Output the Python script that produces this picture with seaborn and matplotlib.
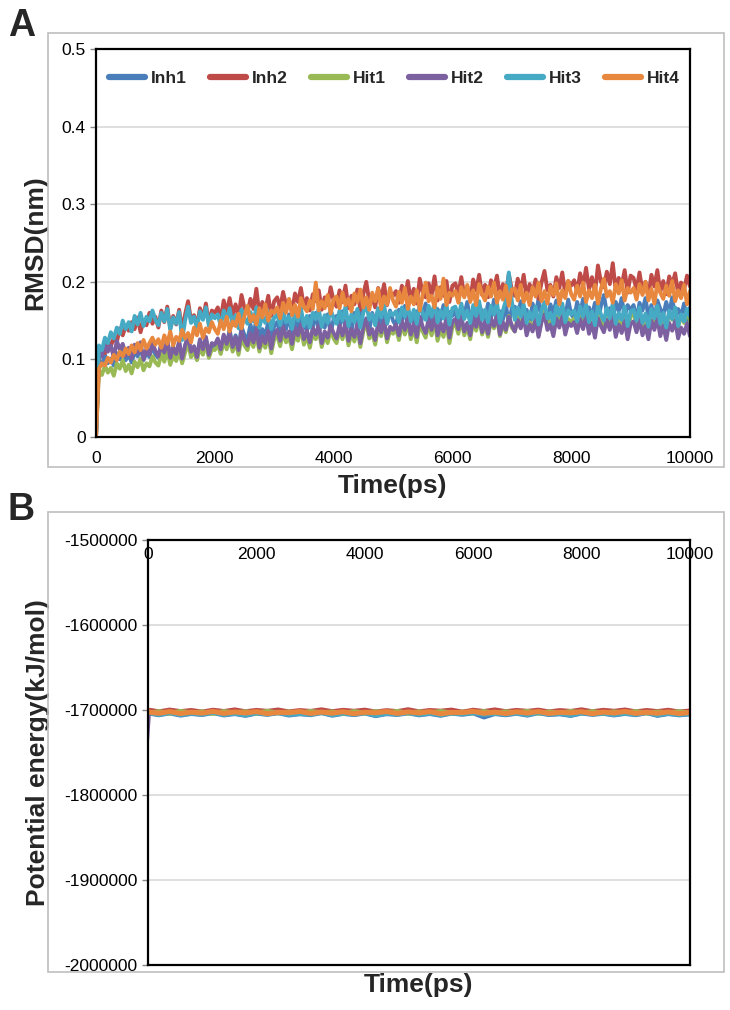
"""MD trajectories: RMSD (A) and potential energy (B) for two inhibitors and four hits."""

import matplotlib
matplotlib.use("Agg")
import matplotlib.pyplot as plt
import numpy as np
import pandas as pd
import seaborn as sns
from matplotlib.lines import Line2D
from matplotlib.patches import Rectangle

SERIES = ["Inh1", "Inh2", "Hit1", "Hit2", "Hit3", "Hit4"]
COLORS = {
    "Inh1": "#4A7EBB",
    "Inh2": "#BE4B48",
    "Hit1": "#98B954",
    "Hit2": "#7D60A0",
    "Hit3": "#46AAC5",
    "Hit4": "#E8873E",
}

# one row = 1000 ps
RMSD_TIME = list(range(0, 10001, 50))
RMSD_INH1 = [0,
             98, 93, 106, 95, 101, 92, 108, 100, 113, 99, 106, 96, 110, 104, 115, 99, 109, 103, 118, 106,
             102, 121, 108, 125, 100, 115, 106, 122, 99, 117, 131, 108, 116, 101, 124, 111, 128, 104, 120, 115,
             125, 108, 130, 119, 138, 116, 131, 114, 142, 131, 126, 145, 130, 152, 128, 139, 131, 148, 124, 143,
             148, 133, 152, 139, 158, 131, 150, 138, 161, 144, 137, 156, 142, 160, 134, 149, 141, 158, 133, 152,
             156, 142, 162, 139, 151, 135, 160, 145, 166, 140, 153, 137, 160, 148, 165, 138, 155, 146, 163, 150,
             143, 164, 148, 169, 141, 157, 146, 162, 139, 158, 172, 150, 157, 142, 165, 151, 170, 147, 161, 156,
             163, 146, 168, 157, 174, 150, 165, 143, 171, 160, 152, 172, 154, 177, 147, 162, 151, 171, 145, 166,
             168, 153, 175, 151, 164, 146, 172, 157, 178, 153, 166, 149, 171, 160, 176, 150, 167, 155, 177, 158,
             153, 174, 159, 178, 151, 167, 156, 173, 148, 169, 183, 160, 166, 152, 174, 162, 179, 155, 170, 164,
             170, 151, 173, 163, 179, 155, 170, 149, 176, 165, 157, 174, 159, 180, 152, 165, 156, 172, 149, 167]
RMSD_INH2 = [0,
             100, 112, 108, 125, 117, 128, 122, 140, 131, 143, 137, 148, 139, 154, 135, 150, 144, 160, 146, 155,
             141, 163, 148, 168, 140, 156, 145, 164, 138, 158, 175, 150, 157, 143, 166, 153, 172, 146, 163, 160,
             167, 152, 176, 160, 179, 157, 171, 155, 183, 166, 160, 178, 165, 191, 158, 174, 163, 182, 156, 175,
             180, 166, 187, 170, 177, 161, 185, 174, 192, 167, 179, 163, 184, 175, 189, 164, 180, 170, 193, 176,
             168, 189, 174, 195, 166, 182, 171, 190, 164, 184, 200, 175, 181, 167, 192, 178, 197, 170, 187, 182,
             188, 173, 195, 180, 201, 176, 191, 172, 204, 186, 180, 198, 183, 207, 176, 193, 182, 201, 174, 195,
             198, 184, 206, 182, 194, 177, 203, 189, 209, 183, 196, 180, 202, 191, 208, 181, 197, 186, 210, 190,
             182, 204, 188, 209, 180, 197, 186, 203, 178, 199, 214, 189, 196, 181, 206, 192, 212, 184, 201, 195,
             202, 187, 211, 194, 218, 190, 206, 185, 221, 200, 193, 213, 197, 224, 189, 205, 195, 215, 186, 208,
             205, 190, 212, 188, 200, 182, 209, 194, 215, 187, 201, 184, 207, 196, 211, 185, 199, 190, 208, 194]
RMSD_HIT1 = [0,
             86, 80, 92, 83, 89, 79, 95, 88, 99, 85, 93, 82, 97, 90, 101, 86, 95, 91, 104, 96,
             92, 107, 97, 112, 93, 105, 98, 111, 95, 109, 121, 103, 110, 99, 116, 106, 120, 102, 113, 112,
             120, 107, 124, 113, 127, 110, 122, 106, 129, 118, 112, 128, 116, 133, 110, 124, 115, 131, 108, 126,
             131, 117, 135, 122, 129, 113, 134, 124, 140, 119, 130, 115, 134, 126, 138, 116, 131, 121, 139, 127,
             121, 139, 126, 143, 118, 133, 123, 140, 116, 136, 148, 127, 134, 119, 142, 130, 146, 122, 137, 133,
             140, 125, 145, 132, 148, 126, 141, 122, 146, 136, 128, 147, 131, 150, 124, 139, 129, 147, 121, 142,
             146, 133, 151, 131, 142, 126, 149, 137, 154, 132, 145, 129, 150, 140, 155, 130, 146, 135, 156, 141,
             136, 155, 141, 159, 134, 148, 139, 156, 131, 151, 163, 142, 149, 134, 157, 145, 162, 137, 152, 148,
             153, 139, 158, 145, 162, 140, 154, 136, 160, 150, 142, 159, 146, 164, 138, 153, 143, 161, 135, 155,
             159, 146, 163, 143, 155, 138, 161, 150, 166, 144, 156, 140, 160, 151, 164, 141, 157, 147, 163, 150]
RMSD_HIT2 = [0,
             112, 104, 121, 110, 118, 102, 124, 113, 120, 105, 115, 101, 119, 108, 122, 100, 114, 106, 121, 111,
             104, 120, 109, 125, 102, 116, 107, 123, 101, 118, 130, 110, 117, 103, 126, 113, 129, 106, 121, 119,
             127, 113, 132, 120, 135, 116, 129, 112, 137, 125, 118, 134, 122, 139, 115, 130, 121, 137, 114, 133,
             138, 124, 142, 129, 136, 120, 141, 131, 145, 126, 137, 122, 141, 132, 144, 121, 136, 128, 143, 134,
             127, 144, 131, 148, 124, 139, 129, 146, 121, 141, 152, 132, 139, 125, 147, 135, 150, 127, 142, 138,
             145, 131, 150, 138, 153, 132, 147, 129, 155, 142, 134, 152, 138, 157, 131, 147, 136, 154, 128, 149,
             152, 139, 156, 136, 147, 131, 154, 142, 158, 135, 149, 133, 153, 143, 157, 132, 148, 138, 155, 144,
             136, 151, 140, 155, 131, 145, 136, 152, 129, 148, 158, 138, 145, 130, 153, 141, 156, 132, 147, 143,
             148, 134, 152, 139, 156, 133, 147, 128, 153, 143, 135, 151, 138, 155, 129, 145, 134, 150, 126, 146,
             149, 135, 152, 131, 143, 126, 150, 138, 153, 130, 144, 125, 147, 137, 150, 127, 141, 133, 146, 130]
RMSD_HIT3 = [0,
             118, 112, 128, 121, 135, 127, 141, 133, 150, 139, 148, 136, 156, 145, 160, 143, 155, 149, 163, 151,
             144, 160, 149, 165, 138, 154, 146, 161, 125, 150, 168, 147, 155, 140, 162, 151, 167, 143, 158, 153,
             158, 143, 163, 150, 166, 144, 157, 140, 164, 153, 146, 161, 149, 167, 141, 156, 147, 162, 139, 154,
             158, 144, 162, 148, 155, 139, 161, 150, 166, 143, 156, 141, 160, 152, 165, 142, 157, 147, 164, 153,
             146, 163, 150, 168, 143, 158, 148, 165, 141, 160, 172, 151, 158, 144, 166, 154, 170, 147, 161, 157,
             162, 148, 167, 155, 170, 149, 164, 146, 171, 159, 151, 169, 155, 174, 148, 163, 153, 171, 145, 166,
             168, 154, 172, 152, 163, 147, 170, 156, 175, 151, 164, 148, 169, 158, 173, 147, 163, 176, 212, 175,
             151, 167, 155, 171, 147, 161, 152, 168, 145, 163, 174, 153, 160, 146, 169, 157, 172, 148, 163, 158,
             163, 149, 168, 155, 171, 148, 162, 144, 169, 158, 150, 166, 153, 172, 146, 160, 151, 168, 143, 162,
             164, 150, 167, 147, 159, 142, 165, 153, 169, 146, 160, 141, 163, 152, 167, 143, 158, 149, 165, 155]
RMSD_HIT4 = [0,
             88, 95, 92, 102, 96, 106, 99, 110, 104, 114, 107, 118, 109, 121, 112, 125, 114, 121, 128, 119,
             126, 115, 131, 120, 136, 118, 129, 124, 138, 127, 134, 122, 141, 131, 146, 128, 140, 135, 148, 139,
             133, 150, 139, 155, 136, 149, 143, 159, 140, 156, 169, 149, 157, 145, 166, 154, 171, 150, 163, 160,
             167, 153, 173, 160, 178, 157, 170, 155, 179, 168, 162, 176, 165, 199, 163, 175, 166, 183, 159, 177,
             181, 166, 186, 170, 178, 162, 185, 174, 190, 167, 180, 164, 186, 175, 191, 165, 181, 171, 192, 176,
             168, 187, 173, 192, 165, 181, 171, 189, 163, 184, 199, 175, 182, 167, 193, 178, 204, 170, 186, 182,
             188, 173, 193, 180, 196, 174, 189, 170, 197, 184, 176, 194, 181, 199, 173, 188, 177, 195, 169, 190,
             191, 176, 196, 174, 186, 170, 193, 181, 199, 175, 188, 172, 194, 183, 198, 171, 189, 179, 201, 184,
             177, 195, 181, 199, 174, 189, 179, 196, 172, 191, 204, 181, 188, 173, 197, 185, 202, 176, 192, 186,
             192, 177, 197, 183, 200, 176, 191, 172, 198, 186, 178, 195, 182, 201, 175, 189, 179, 196, 171, 188]

# Potential energy in kJ/mol, roughly every 200 ps.
ENERGY_TIME = [0, 40] + list(range(200, 10001, 200))
ENERGY_INH1 = [-1702000, -1703800, -1705600, -1703400, -1706000, -1704100, -1705300, -1703000, -1705800, -1704200,
               -1706300, -1703600, -1705100, -1703200, -1705900, -1704400, -1705500, -1703100, -1706100, -1704000,
               -1705400, -1703500, -1706600, -1704300, -1705200, -1703300, -1705700, -1704100, -1706200, -1703700,
               -1705000, -1703400, -1708200, -1704200, -1705600, -1703800, -1706000, -1703200, -1705300, -1704500,
               -1706400, -1703600, -1705100, -1703900, -1705800, -1704000, -1705500, -1703100, -1706300, -1704200,
               -1705700, -1704600]
ENERGY_INH2 = [-1702000, -1700400, -1702200, -1700100, -1701900, -1700600, -1702500, -1700300, -1701800, -1699900,
               -1702100, -1700500, -1701600, -1700000, -1702300, -1700700, -1701700, -1699800, -1702000, -1700400,
               -1701500, -1700200, -1702400, -1700800, -1701900, -1699700, -1702200, -1700600, -1701400, -1700100,
               -1702600, -1700300, -1701800, -1699900, -1702000, -1700500, -1701600, -1700200, -1702300, -1700700,
               -1701700, -1699800, -1702100, -1700400, -1701500, -1700000, -1702200, -1700600, -1701900, -1700300,
               -1702400, -1701200]
ENERGY_HIT1 = [-1702000, -1703600, -1702000, -1703900, -1701700, -1703400, -1702200, -1704000, -1701900, -1703300,
               -1702100, -1703800, -1701600, -1703500, -1702300, -1703700, -1701800, -1703200, -1702400, -1704100,
               -1701900, -1703600, -1702000, -1703300, -1701700, -1703900, -1702200, -1703400, -1701800, -1703700,
               -1702500, -1703500, -1701900, -1704000, -1702100, -1703300, -1701700, -1703800, -1702300, -1703600,
               -1701800, -1703400, -1702000, -1703900, -1702200, -1703500, -1701900, -1703700, -1702400, -1703300,
               -1702100, -1703600]
ENERGY_HIT2 = [-1740000, -1703000, -1704100, -1702300, -1704400, -1702600, -1703900, -1702100, -1704200, -1702800,
               -1703700, -1702200, -1704500, -1702900, -1703500, -1702000, -1704300, -1702600, -1704000, -1702400,
               -1704600, -1702800, -1703600, -1702100, -1704200, -1702500, -1703800, -1702300, -1704700, -1703000,
               -1703400, -1701900, -1704100, -1702700, -1704400, -1702400, -1703900, -1702100, -1704300, -1702900,
               -1703600, -1702300, -1704500, -1702600, -1703800, -1702000, -1704200, -1702800, -1704100, -1702500,
               -1704400, -1703300]
ENERGY_HIT3 = [-1702000, -1703100, -1705100, -1702900, -1705400, -1703500, -1704800, -1702600, -1705200, -1703700,
               -1705700, -1703200, -1704600, -1702800, -1705300, -1703900, -1705000, -1702700, -1705500, -1703400,
               -1704900, -1703000, -1706000, -1703800, -1704700, -1702900, -1705200, -1703600, -1705600, -1703300,
               -1704500, -1703000, -1705100, -1703800, -1705000, -1703400, -1705400, -1702800, -1704800, -1704000,
               -1705800, -1703100, -1704600, -1703500, -1705300, -1703600, -1705000, -1702700, -1705700, -1703800,
               -1705200, -1704100]
ENERGY_HIT4 = [-1702000, -1702600, -1703900, -1701800, -1704200, -1702500, -1703700, -1701600, -1704000, -1702300,
               -1703500, -1701900, -1704300, -1702700, -1703200, -1701700, -1704100, -1702400, -1703800, -1702000,
               -1704400, -1702600, -1703300, -1701800, -1704000, -1702200, -1703600, -1701900, -1704500, -1702800,
               -1703100, -1701600, -1703900, -1702500, -1704200, -1702100, -1703700, -1701800, -1704100, -1702700,
               -1703400, -1702000, -1704300, -1702400, -1703600, -1701700, -1704000, -1702600, -1703900, -1702300,
               -1704200, -1703000]

RMSD = [RMSD_INH1, RMSD_INH2, RMSD_HIT1, RMSD_HIT2, RMSD_HIT3, RMSD_HIT4]
ENERGY = [ENERGY_INH1, ENERGY_INH2, ENERGY_HIT1, ENERGY_HIT2, ENERGY_HIT3, ENERGY_HIT4]

FIG_W, FIG_H = 730, 1010


def _frac(x0, y0, x1, y1):
    """Pixel box (top-left origin) -> figure fraction rect."""
    return [x0 / FIG_W, 1 - y1 / FIG_H, (x1 - x0) / FIG_W, (y1 - y0) / FIG_H]


def _long(time, columns, scale=1.0):
    frames = []
    for name, vals in zip(SERIES, columns):
        frames.append(pd.DataFrame({"time": time, "value": np.asarray(vals) * scale, "series": name}))
    return pd.concat(frames, ignore_index=True)


def _style_axes(ax):
    for side in ("left", "right", "top", "bottom"):
        ax.spines[side].set_visible(True)
        ax.spines[side].set_color("black")
        ax.spines[side].set_linewidth(1.6)
    ax.grid(axis="y", color="#D9D9D9", linewidth=1.2)
    ax.grid(axis="x", visible=False)
    ax.set_axisbelow(True)
    ax.tick_params(axis="both", labelsize=12.5, colors="black", length=4, width=1)
    ax.tick_params(axis="y", left=True, direction="out", color="#888888")


sns.set_theme(style="white")
plt.rcParams["font.family"] = ["Liberation Sans", "DejaVu Sans"]
plt.rcParams["axes.unicode_minus"] = False

fig = plt.figure(figsize=(FIG_W / 100, FIG_H / 100), dpi=100)

# outer grey frames of the two panels
for box in [(48, 33, 724, 467), (48, 512, 724, 972)]:
    fig.patches.append(Rectangle((box[0] / FIG_W, 1 - box[3] / FIG_H),
                                 (box[2] - box[0]) / FIG_W, (box[3] - box[1]) / FIG_H,
                                 transform=fig.transFigure, fill=False,
                                 edgecolor="#BFBFBF", linewidth=1.2, zorder=0))

# ---- A: RMSD ----
ax1 = fig.add_axes(_frac(96, 49, 690, 437))
df_rmsd = _long(RMSD_TIME, RMSD, scale=0.001)
sns.lineplot(data=df_rmsd, x="time", y="value", hue="series", hue_order=SERIES,
             palette=COLORS, estimator=None, sort=False, linewidth=2.8, legend=False, ax=ax1)
ax1.set_xlim(0, 10000)
ax1.set_ylim(0, 0.5)
ax1.set_xticks(np.arange(0, 10001, 2000))
ax1.set_yticks(np.arange(0, 0.51, 0.1))
ax1.set_yticklabels(["0", "0.1", "0.2", "0.3", "0.4", "0.5"])
_style_axes(ax1)
ax1.tick_params(axis="x", bottom=False, pad=6)
ax1.set_xlabel("Time(ps)", fontsize=19, fontweight="bold", labelpad=6)
ax1.set_ylabel("RMSD(nm)", fontsize=19, fontweight="bold", labelpad=10)

handles = [Line2D([], [], color=COLORS[s], linewidth=4.5) for s in SERIES]
leg = ax1.legend(handles, SERIES, loc="upper center", bbox_to_anchor=(0.502, 0.985), ncol=6,
                 frameon=False, handlelength=2.1, handletextpad=0.3, columnspacing=1.35,
                 prop={"weight": "bold", "size": 12.5})

# ---- B: potential energy ----
ax2 = fig.add_axes(_frac(148, 540, 690, 965))
df_energy = _long(ENERGY_TIME, ENERGY)
sns.lineplot(data=df_energy, x="time", y="value", hue="series", hue_order=SERIES,
             palette=COLORS, estimator=None, sort=False, linewidth=3.6, legend=False, ax=ax2)
# the initial drop of Hit2 shows as a thin line in the original
ax2.lines[3].set_linewidth(1.2)
ax2.set_xlim(0, 10000)
ax2.set_ylim(-2000000, -1500000)
ax2.set_xticks(np.arange(0, 10001, 2000))
ax2.set_yticks(np.arange(-2000000, -1499999, 100000))
ax2.set_yticklabels([str(v) for v in range(-2000000, -1499999, 100000)])
_style_axes(ax2)
ax2.tick_params(axis="x", bottom=False, top=False, labelbottom=False, labeltop=True, pad=-20)
ax2.xaxis.set_label_position("bottom")
ax2.set_xlabel("Time(ps)", fontsize=19, fontweight="bold", labelpad=6)
ax2.set_ylabel("Potential energy(kJ/mol)", fontsize=19, fontweight="bold", labelpad=10)

fig.text(8 / FIG_W, 1 - 8 / FIG_H, "A", fontsize=27, fontweight="bold", va="top", ha="left")
fig.text(8 / FIG_W, 1 - 492 / FIG_H, "B", fontsize=27, fontweight="bold", va="top", ha="left")

fig.savefig("out.png", dpi=100)
